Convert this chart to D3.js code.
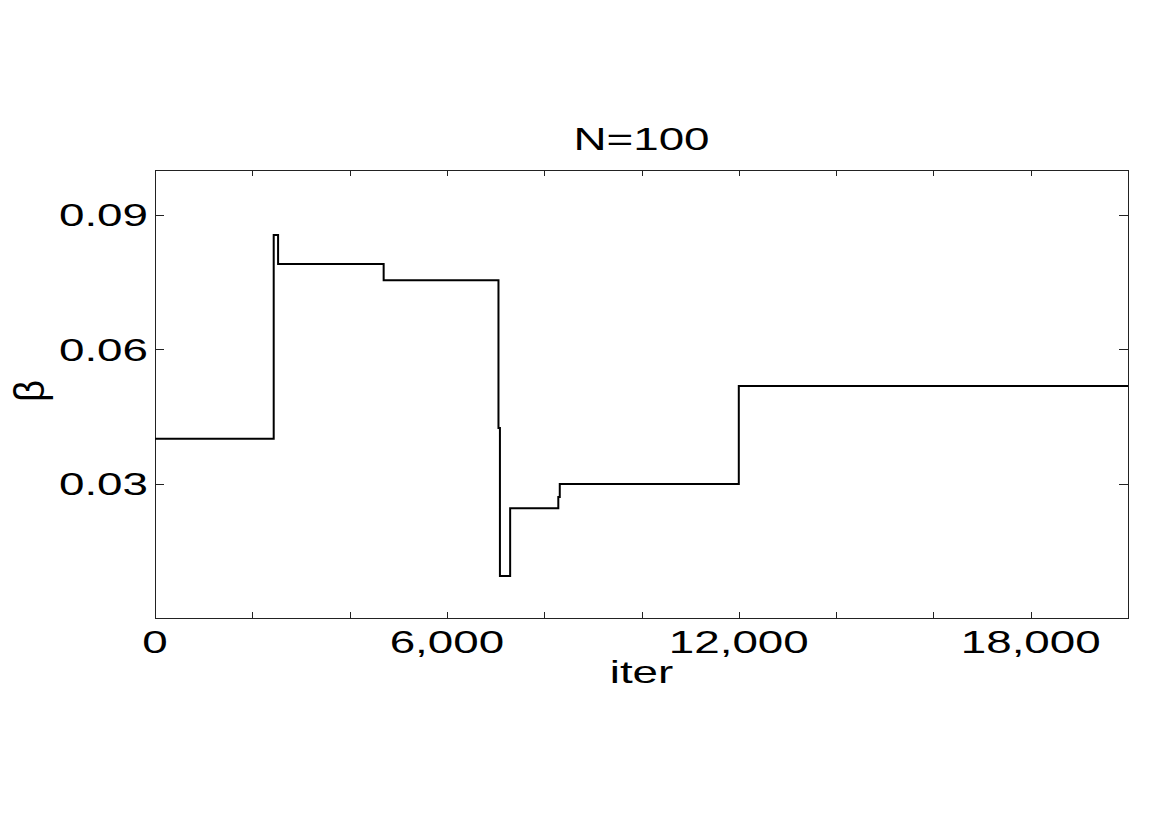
<!DOCTYPE html>
<html>
<head>
<meta charset="utf-8">
<script src="https://cdn.jsdelivr.net/npm/d3@7"></script>
<style>
  html, body { margin: 0; padding: 0; background: #fff; }
  svg { display: block; }
  text { font-family: "Liberation Sans", Arial, Helvetica, sans-serif; fill: #000; }
</style>
</head>
<body>
<svg id="chart" width="1170" height="827"></svg>
<script>
// ---- data ----
const iters = [0, 2440, 2530, 4700, 7060, 7090, 7300, 8290, 8320, 12000, 20000];
const betas = [0.040, 0.0855, 0.079, 0.0754, 0.0424, 0.0094, 0.0245, 0.027, 0.0299, 0.0518, 0.0518];
const xTicks = [0, 2000, 4000, 6000, 8000, 10000, 12000, 14000, 16000, 18000, 20000];
const xTickLabels = ["0", "6,000", "12,000", "18,000"];
const xLabeled = [0, 6000, 12000, 18000];
const yTicks = [0.03, 0.06, 0.09];
const yTickLabels = ["0.03", "0.06", "0.09"];
const titleText = "N=100";
const xLabelText = "iter";
const yLabelText = "β";

// ---- layout ----
const pL = 155, pT = 170, pR = 1128, pB = 618;
const stretch = 1.43;
const fs = 32;

const svg = d3.select("#chart");
const x = d3.scaleLinear().domain([0, 20000]).range([pL, pR]);
const y = d3.scaleLinear().domain([0, 0.1]).range([pB, pT]);

const axisColor = "#222";

// box
svg.append("rect")
  .attr("x", pL + 0.5).attr("y", pT + 0.5)
  .attr("width", pR - pL).attr("height", pB - pT)
  .attr("fill", "none").attr("stroke", axisColor).attr("stroke-width", 1);

// x ticks (bottom & top, inward)
const xtLen = 6, ytLen = 9;
xTicks.forEach(t => {
  const px = Math.round(x(t)) + 0.5;
  svg.append("line").attr("x1", px).attr("x2", px).attr("y1", pB).attr("y2", pB - xtLen)
    .attr("stroke", axisColor);
  svg.append("line").attr("x1", px).attr("x2", px).attr("y1", pT).attr("y2", pT + xtLen)
    .attr("stroke", axisColor);
});
// y ticks (left & right, inward)
yTicks.forEach(t => {
  const py = Math.round(y(t)) + 0.5;
  svg.append("line").attr("x1", pL).attr("x2", pL + ytLen).attr("y1", py).attr("y2", py)
    .attr("stroke", axisColor);
  svg.append("line").attr("x1", pR).attr("x2", pR - ytLen).attr("y1", py).attr("y2", py)
    .attr("stroke", axisColor);
});

function stretchedText(tx, ty, str, anchor) {
  const g = svg.append("g").attr("transform", `translate(${tx},${ty}) scale(${stretch},1)`);
  g.append("text").attr("x", 0).attr("y", 0)
    .attr("text-anchor", anchor).attr("font-size", fs).text(str);
  return g;
}

// x tick labels
xLabeled.forEach((t, i) => {
  stretchedText(x(t), 653, xTickLabels[i], "middle");
});
// y tick labels
yTicks.forEach((t, i) => {
  stretchedText(148, y(t) + 11.5, yTickLabels[i], "end");
});

// title
stretchedText((pL + pR) / 2, 150, titleText, "middle");
// x label
stretchedText((pL + pR) / 2, 683, xLabelText, "middle");
// y label
svg.append("g").attr("transform", `translate(${44},${391}) rotate(-90) scale(1.2,1.3)`)
  .append("text").attr("text-anchor", "middle").attr("font-size", fs).text(yLabelText);

// data line
const pts = iters.map((d, i) => [d, betas[i]]);
const line = d3.line().x(d => x(d[0])).y(d => y(d[1])).curve(d3.curveStepAfter);
svg.append("path").datum(pts).attr("d", line)
  .attr("fill", "none").attr("stroke", "#000").attr("stroke-width", 2);
</script>
</body>
</html>
